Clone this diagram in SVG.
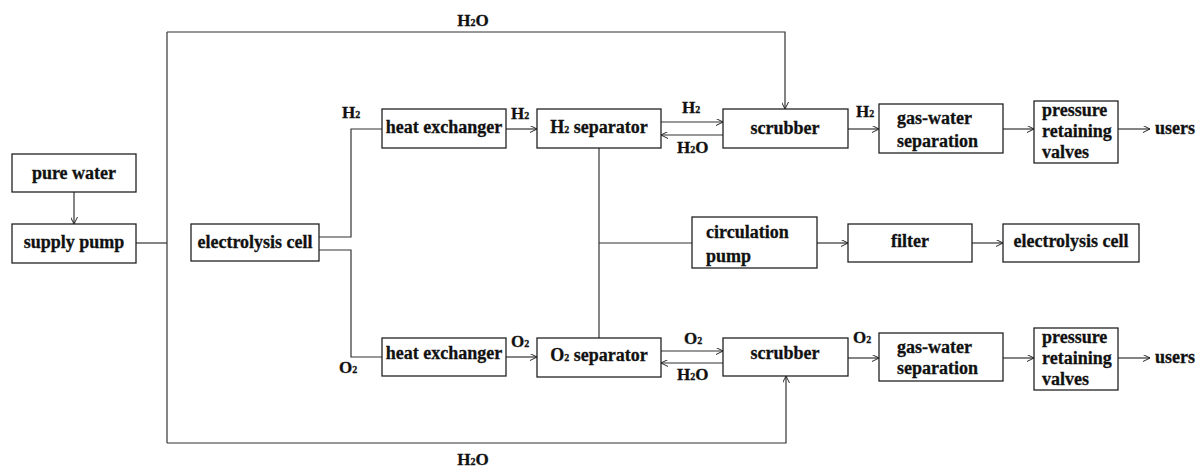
<svg xmlns="http://www.w3.org/2000/svg" width="1198" height="470" viewBox="0 0 1198 470">
<style>
.box{fill:#fff;stroke:#222;stroke-width:1.3}
.t{font-family:"Liberation Serif","Times New Roman",serif;font-weight:bold;font-size:18px;fill:#111;stroke:#111;stroke-width:0.3}
.m{text-anchor:middle}
.l{font-family:"Liberation Serif","Times New Roman",serif;font-weight:bold;font-size:17px;fill:#111;stroke:#111;stroke-width:0.3}
.s{font-size:10px}
.c{fill:none;stroke:#333;stroke-width:1.2}
</style>
<defs>
<marker id="a" viewBox="0 0 10 10" refX="10" refY="5" markerWidth="7" markerHeight="7" markerUnits="userSpaceOnUse" orient="auto">
<path d="M0,0 L10,5 L0,10" fill="none" stroke="#222" stroke-width="1.4"/>
</marker>
</defs>
<g id="connectors">
<path class="c" d="M74,192 V224" marker-end="url(#a)"/>
<path class="c" d="M136,243 H167"/>
<path class="c" d="M167,32 V443"/>
<path class="c" d="M167,32 H785 V109" marker-end="url(#a)"/>
<path class="c" d="M167,443 H786 V376" marker-end="url(#a)"/>
<path class="c" d="M319,237 H351 V129 H382"/>
<path class="c" d="M319,250 H351 V357 H382"/>
<path class="c" d="M506,129 H537" marker-end="url(#a)"/>
<path class="c" d="M506,357 H537" marker-end="url(#a)"/>
<path class="c" d="M661,122 H723" marker-end="url(#a)"/>
<path class="c" d="M723,135 H661" marker-end="url(#a)"/>
<path class="c" d="M661,351 H723" marker-end="url(#a)"/>
<path class="c" d="M723,363 H661" marker-end="url(#a)"/>
<path class="c" d="M848,129 H879" marker-end="url(#a)"/>
<path class="c" d="M848,358 H879" marker-end="url(#a)"/>
<path class="c" d="M1003,129 H1034" marker-end="url(#a)"/>
<path class="c" d="M1003,358 H1034" marker-end="url(#a)"/>
<path class="c" d="M1118,129 H1150" marker-end="url(#a)"/>
<path class="c" d="M1118,358 H1150" marker-end="url(#a)"/>
<path class="c" d="M599,148 V338"/>
<path class="c" d="M599,243 H692"/>
<path class="c" d="M817,243 H848" marker-end="url(#a)"/>
<path class="c" d="M972,243 H1003" marker-end="url(#a)"/>
</g>
<g id="labels">
<text class="l m" x="473" y="26">H<tspan class="s">2</tspan>O</text>
<text class="l m" x="473" y="465">H<tspan class="s">2</tspan>O</text>
<text class="l" x="342" y="118">H<tspan class="s">2</tspan></text>
<text class="l" x="511" y="119">H<tspan class="s">2</tspan></text>
<text class="l" x="682" y="113">H<tspan class="s">2</tspan></text>
<text class="l" x="677" y="153">H<tspan class="s">2</tspan>O</text>
<text class="l" x="856" y="117">H<tspan class="s">2</tspan></text>
<text class="l" x="339" y="373">O<tspan class="s">2</tspan></text>
<text class="l" x="511" y="347">O<tspan class="s">2</tspan></text>
<text class="l" x="684" y="344">O<tspan class="s">2</tspan></text>
<text class="l" x="677" y="380">H<tspan class="s">2</tspan>O</text>
<text class="l" x="853" y="343">O<tspan class="s">2</tspan></text>
</g>
<g id="pure-water"><rect class="box" x="12" y="154" width="124" height="38"/><text class="t m" x="74" y="179">pure water</text></g>
<g id="supply-pump"><rect class="box" x="12" y="224" width="124" height="39"/><text class="t m" x="74" y="248">supply pump</text></g>
<g id="electrolysis-cell-1"><rect class="box" x="191" y="224" width="128" height="37"/><text class="t m" x="255" y="248">electrolysis cell</text></g>
<g id="heat-exchanger-h2"><rect class="box" x="382" y="109" width="124" height="39"/><text class="t m" x="444" y="133">heat exchanger</text></g>
<g id="h2-separator"><rect class="box" x="537" y="109" width="124" height="39"/><text class="t m" x="599" y="133">H<tspan font-size="10px">2</tspan> separator</text></g>
<g id="scrubber-h2"><rect class="box" x="723" y="109" width="125" height="39"/><text class="t m" x="785" y="134">scrubber</text></g>
<g id="gas-water-h2"><rect class="box" x="879" y="104" width="124" height="49"/><text class="t" x="897" y="124">gas-water</text><text class="t" x="897" y="147">separation</text></g>
<g id="valves-h2"><rect class="box" x="1034" y="101" width="84" height="62"/><text class="t" x="1042" y="116">pressure</text><text class="t" x="1042" y="137">retaining</text><text class="t" x="1042" y="158">valves</text></g>
<g id="users-h2"><text class="t" x="1155" y="134">users</text></g>
<g id="heat-exchanger-o2"><rect class="box" x="382" y="338" width="124" height="38"/><text class="t m" x="444" y="359">heat exchanger</text></g>
<g id="o2-separator"><rect class="box" x="537" y="338" width="124" height="39"/><text class="t m" x="599" y="361">O<tspan font-size="10px">2</tspan> separator</text></g>
<g id="scrubber-o2"><rect class="box" x="723" y="338" width="125" height="38"/><text class="t m" x="785" y="359">scrubber</text></g>
<g id="gas-water-o2"><rect class="box" x="879" y="333" width="124" height="48"/><text class="t" x="897" y="353">gas-water</text><text class="t" x="897" y="374">separation</text></g>
<g id="valves-o2"><rect class="box" x="1034" y="328" width="84" height="62"/><text class="t" x="1042" y="343">pressure</text><text class="t" x="1042" y="364">retaining</text><text class="t" x="1042" y="385">valves</text></g>
<g id="users-o2"><text class="t" x="1155" y="363">users</text></g>
<g id="circulation-pump"><rect class="box" x="692" y="217" width="125" height="51"/><text class="t" x="706" y="238">circulation</text><text class="t" x="706" y="262">pump</text></g>
<g id="filter"><rect class="box" x="848" y="224" width="124" height="38"/><text class="t m" x="910" y="247">filter</text></g>
<g id="electrolysis-cell-2"><rect class="box" x="1003" y="224" width="136" height="38"/><text class="t m" x="1071" y="247">electrolysis cell</text></g>
</svg>
